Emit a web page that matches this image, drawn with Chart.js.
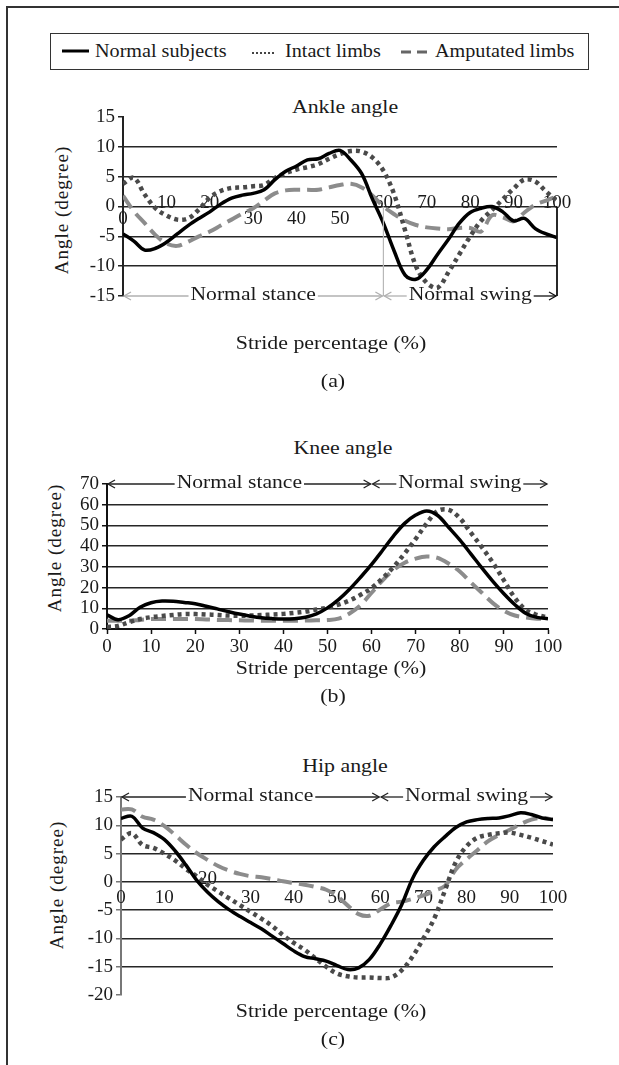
<!DOCTYPE html>
<html lang="en">
<head>
<meta charset="UTF-8">
<title>Ankle, knee and hip angles over the stride</title>
<style>
  html, body { margin: 0; padding: 0; background: #fff; overflow: hidden; }
  body {
    width: 619px; height: 1065px; position: relative;
    font-family: "Liberation Serif", serif; color: #1a1a1a;
  }
  .frame {
    position: absolute; left: 6px; top: 6px; width: 611px; height: 1057px;
    border-left: 2px solid #333; border-top: 2px solid #333;
  }
  .legend {
    position: absolute; left: 50px; top: 33px; width: 537px; height: 35px;
    border: 1.5px solid #333;
  }
  .legend svg { position: absolute; top: 11px; }
  .legend span {
    position: absolute; top: 0; line-height: 35px; font-size: 18px; white-space: nowrap;
    transform: scaleX(1.12); transform-origin: left center;
  }
  canvas { position: absolute; left: 0; }
  .txt {
    position: absolute; transform: translate(-50%, -50%) scaleX(1.15);
    white-space: nowrap; font-size: 19px;
  }
  .ytitle {
    position: absolute; transform: translate(-50%, -50%) rotate(-90deg);
    white-space: nowrap; font-size: 19px; letter-spacing: 1px;
  }
</style>
</head>
<body>
  <div class="frame"></div>

  <div class="legend">
    <svg style="left:11px" width="28" height="12"><line x1="0" y1="6" x2="27" y2="6" stroke="#000" stroke-width="3"/></svg>
    <span style="left:44px">Normal subjects</span>
    <svg style="left:201px" width="26" height="12"><line x1="0" y1="8" x2="24" y2="8" stroke="#444" stroke-width="2" stroke-dasharray="2 2"/></svg>
    <span style="left:234px">Intact limbs</span>
    <svg style="left:350px" width="30" height="12"><line x1="0" y1="7" x2="29" y2="7" stroke="#666" stroke-width="3" stroke-dasharray="10 6"/></svg>
    <span style="left:384px">Amputated limbs</span>
  </div>

  <div class="txt" style="left:345px; top:107px">Ankle angle</div>
  <div class="ytitle" style="left:62px; top:210px">Angle (degree)</div>
  <canvas id="ankle" width="619" height="250" style="top:90px; width:619px; height:250px"></canvas>
  <div class="txt" style="left:331px; top:343px">Stride percentage (%)</div>
  <div class="txt" style="left:333px; top:381px">(a)</div>

  <div class="txt" style="left:343px; top:448px">Knee angle</div>
  <div class="ytitle" style="left:55px; top:548px">Angle (degree)</div>
  <canvas id="knee" width="619" height="260" style="top:420px; width:619px; height:260px"></canvas>
  <div class="txt" style="left:331px; top:668px">Stride percentage (%)</div>
  <div class="txt" style="left:333px; top:696px">(b)</div>

  <div class="txt" style="left:345px; top:766px">Hip angle</div>
  <div class="ytitle" style="left:57px; top:885px">Angle (degree)</div>
  <canvas id="hip" width="619" height="270" style="top:740px; width:619px; height:270px"></canvas>
  <div class="txt" style="left:331px; top:1011px">Stride percentage (%)</div>
  <div class="txt" style="left:333px; top:1039px">(c)</div>

  <script src="https://cdn.jsdelivr.net/npm/chart.js"></script>
  <script>
    // stride percentage, sampled every 2.5 %
    const stride = [0, 2.5, 5, 7.5, 10, 12.5, 15, 17.5, 20, 22.5, 25, 27.5, 30, 32.5, 35, 37.5, 40,
                    42.5, 45, 47.5, 50, 52.5, 55, 57.5, 60, 62.5, 65, 67.5, 70, 72.5, 75, 77.5, 80,
                    82.5, 85, 87.5, 90, 92.5, 95, 97.5, 100];

    // (a) ankle angle, degrees
    const ankleNormal = [-4.6, -5.8, -7.3, -7.0, -6.0, -4.6, -3.2, -2.0, -0.9, 0.4, 1.4, 1.9, 2.2, 2.8,
                         4.5, 5.9, 6.8, 7.8, 8.0, 8.9, 9.4, 7.8, 5.5, 1.2, -2.8, -7.5, -11.5, -12.2,
                         -10.6, -8.0, -5.5, -2.8, -1.0, -0.3, 0.0, -0.9, -2.4, -2.0, -3.7, -4.6, -5.2];
    const ankleIntact = [3.8, 4.8, 2.0, -0.3, -1.5, -2.2, -2.0, -0.5, 1.5, 2.6, 3.1, 3.2, 3.4, 3.6,
                         4.8, 5.6, 6.2, 6.6, 7.1, 8.0, 8.8, 9.3, 9.2, 8.2, 6.0, 2.0, -4.0, -10.0,
                         -12.8, -13.6, -11.0, -8.0, -5.0, -2.4, -0.6, 1.2, 3.0, 4.5, 4.2, 2.5, 1.0];
    const ankleAmputated = [1.8, -0.8, -2.8, -4.8, -6.2, -6.6, -5.9, -5.0, -4.2, -3.2, -2.2, -1.2, -0.3,
                            1.0, 2.2, 2.7, 2.8, 2.8, 2.8, 3.2, 3.6, 3.8, 3.2, 1.8, 0.0, -1.3, -2.4,
                            -3.1, -3.5, -3.7, -3.8, -3.6, -3.6, -4.2, -1.5, -1.8, -2.5, -1.0, 0.3, 1.0, 1.7];

    // (b) knee angle, degrees
    const kneeNormal = [6.8, 4.5, 6.4, 10.5, 12.7, 13.5, 13.4, 12.8, 12.2, 11.0, 9.7, 8.4, 7.2, 6.2,
                        5.4, 5.0, 4.8, 5.0, 5.7, 7.3, 10.2, 14.2, 19.2, 25.0, 31.2, 38.0, 45.0, 51.0,
                        55.0, 57.0, 54.8, 49.0, 43.0, 36.3, 29.5, 23.0, 17.0, 11.7, 7.5, 5.6, 5.0];
    const kneeIntact = [1.0, 1.5, 3.3, 4.8, 5.7, 6.3, 6.8, 7.2, 7.2, 7.0, 6.8, 6.5, 6.4, 6.5, 6.7,
                        7.0, 7.3, 7.8, 8.4, 9.4, 10.3, 11.8, 13.8, 16.5, 19.8, 24.5, 30.0, 36.5,
                        43.5, 51.0, 57.0, 57.5, 53.5, 46.5, 39.5, 32.0, 23.5, 15.0, 9.2, 6.8, 5.6];
    const kneeAmputated = [4.0, 4.0, 4.0, 4.4, 4.8, 4.8, 4.8, 4.8, 4.8, 4.6, 4.4, 4.3, 4.2, 4.1, 4.0,
                           4.0, 4.0, 4.0, 4.1, 4.2, 4.3, 5.0, 7.5, 11.5, 17.5, 23.5, 28.5, 32.0, 34.0,
                           35.0, 34.3, 31.5, 27.8, 22.5, 17.5, 12.5, 8.8, 6.5, 5.6, 5.0, 4.8];

    // (c) hip angle, degrees
    const hipNormal = [11.2, 11.6, 9.5, 8.7, 7.5, 5.5, 3.0, 0.3, -1.8, -3.5, -4.9, -6.1, -7.2, -8.3,
                       -9.6, -10.9, -12.2, -13.2, -13.6, -14.0, -14.8, -15.5, -15.2, -13.7, -11.0,
                       -7.7, -4.0, 0.6, 3.8, 6.2, 8.0, 9.6, 10.6, 11.0, 11.2, 11.3, 11.7, 12.2, 11.9,
                       11.3, 11.0];
    const hipIntact = [7.5, 8.6, 6.5, 6.0, 5.0, 3.8, 2.3, 1.0, -0.5, -1.7, -2.9, -4.1, -5.3, -6.5,
                       -7.8, -9.4, -10.8, -12.0, -13.5, -15.0, -16.2, -16.7, -16.9, -16.9, -17.0,
                       -16.9, -15.6, -13.2, -10.0, -6.5, -1.5, 3.5, 6.3, 7.8, 8.3, 8.6, 8.7, 8.3,
                       7.8, 7.2, 6.6];
    const hipAmputated = [12.8, 12.8, 11.5, 11.0, 9.9, 8.3, 6.6, 5.1, 3.9, 2.8, 2.0, 1.4, 1.0, 0.8,
                          0.5, 0.1, -0.2, -0.5, -0.9, -1.4, -2.5, -4.2, -5.7, -6.0, -4.9, -3.8, -3.5,
                          -3.0, -2.4, -1.6, -0.7, 2.2, 4.0, 5.6, 7.2, 8.3, 9.2, 10.2, 11.0, 11.3, 11.0];

    // x tick labels that sit under / over the zero line
    const ankleLow = [0, 30, 40, 50];
    const ankleHigh = [10, 20, 60, 70, 80, 90, 100];
    const hipLow = [0, 10, 30, 40, 50, 60, 70, 80, 90, 100];
    const hipHigh = [20];

    Chart.defaults.font.family = '"Liberation Serif", serif';
    Chart.defaults.color = '#1a1a1a';
    Chart.defaults.animation = false;

    function series(ys) {
      return stride.map((x, i) => ({ x: x, y: ys[i] }));
    }

    function lines(normal, intact, amputated) {
      const base = { pointRadius: 0, tension: 0.35, fill: false, borderCapStyle: 'butt' };
      return [
        Object.assign({ label: 'Normal subjects', data: series(normal), borderColor: '#000', borderWidth: 3.5, order: 0 }, base),
        Object.assign({ label: 'Intact limbs', data: series(intact), borderColor: '#4a4a4a', borderWidth: 4.5, borderDash: [4, 4], order: 1 }, base),
        Object.assign({ label: 'Amputated limbs', data: series(amputated), borderColor: '#8c8c8c', borderWidth: 4, borderDash: [15, 7], order: 2 }, base)
      ];
    }

    function yAxis(min, max, step, hidden, axisColor) {
      return {
        min: min, max: max,
        ticks: { stepSize: step, autoSkip: false, padding: 3, font: { size: 19 } },
        grid: {
          color: c => hidden.includes(c.tick.value) ? 'rgba(0,0,0,0)' : '#262626',
          lineWidth: 1.5, drawTicks: true, tickLength: 5, tickColor: axisColor, tickWidth: 1.5
        },
        border: { display: true, color: axisColor, width: 2 },
        afterFit: s => { s.width = 55; }
      };
    }

    // x axis sitting on the zero line, showing only some of the labels
    function zeroAxis(show, pad) {
      return {
        type: 'linear', min: 0, max: 100, position: { y: 0 },
        ticks: {
          stepSize: 10, autoSkip: false, maxRotation: 0, padding: pad, font: { size: 19 },
          callback: v => show.includes(v) ? v : ''
        },
        grid: { display: false, drawTicks: false },
        border: { display: false }
      };
    }

    function line(ctx, x1, y1, x2, y2, color, w) {
      ctx.strokeStyle = color;
      ctx.lineWidth = w;
      ctx.beginPath();
      ctx.moveTo(x1, y1);
      ctx.lineTo(x2, y2);
      ctx.stroke();
    }

    function head(ctx, x, y, dir, color) {
      ctx.strokeStyle = color;
      ctx.lineWidth = 1.3;
      ctx.beginPath();
      ctx.moveTo(x - dir * 7, y - 4);
      ctx.lineTo(x, y);
      ctx.lineTo(x - dir * 7, y + 4);
      ctx.stroke();
    }

    // arrow x1 <-> x2 with a label in the gap; text is stretched like the rest of the figure
    function span(ctx, x1, x2, y, text, cl, cr) {
      const stretch = 1.2;
      const w = ctx.measureText(text).width * stretch;
      const mid = (x1 + x2) / 2;
      line(ctx, x1 + 1, y, mid - w / 2 - 2, y, cl, 1.3);
      head(ctx, x1 + 1, y, -1, cl);
      line(ctx, mid + w / 2 + 2, y, x2 - 1, y, cr, 1.3);
      head(ctx, x2 - 1, y, 1, cr);
      ctx.save();
      ctx.translate(mid, y - 1);
      ctx.scale(stretch, 1);
      ctx.fillStyle = '#1a1a1a';
      ctx.textAlign = 'center';
      ctx.textBaseline = 'middle';
      ctx.fillText(text, 0, 0);
      ctx.restore();
    }

    // stance / swing arrows
    const phasePlugin = {
      id: 'phases',
      afterDraw(chart, args, o) {
        const ctx = chart.ctx;
        const xs = chart.scales.x, ys = chart.scales.y;
        const y = ys.getPixelForValue(o.level);
        const a = xs.getPixelForValue(0), m = xs.getPixelForValue(60), b = xs.getPixelForValue(100);
        ctx.save();
        ctx.font = '18px "Liberation Serif"';
        if (o.guides) {
          const y0 = ys.getPixelForValue(0);
          line(ctx, m, y0, m, y, '#b8b8b8', 1.2);
          line(ctx, b, y0, b, y, '#111', 1.8);
        }
        span(ctx, a, m, y, 'Normal stance', o.stance, o.stance);
        span(ctx, m, b, y, 'Normal swing', o.swingL, o.swingR);
        ctx.restore();
      }
    };

    new Chart(document.getElementById('ankle'), {
      type: 'line',
      data: { datasets: lines(ankleNormal, ankleIntact, ankleAmputated) },
      plugins: [phasePlugin],
      options: {
        responsive: false,
        layout: { padding: { left: 68, right: 62, top: 27, bottom: 44 } },
        plugins: {
          legend: { display: false }, tooltip: { enabled: false },
          phases: { level: -15, guides: true, stance: '#b0b0b0', swingL: '#b0b0b0', swingR: '#111' }
        },
        scales: {
          y: yAxis(-15, 15, 5, [15, -15], '#222'),
          x: zeroAxis(ankleLow, 1),
          x2: zeroAxis(ankleHigh, -15)
        }
      }
    });

    new Chart(document.getElementById('knee'), {
      type: 'line',
      data: { datasets: lines(kneeNormal, kneeIntact, kneeAmputated) },
      plugins: [phasePlugin],
      options: {
        responsive: false,
        layout: { padding: { left: 52, right: 71, top: 64, bottom: 21 } },
        plugins: {
          legend: { display: false }, tooltip: { enabled: false },
          phases: { level: 70, guides: false, stance: '#222', swingL: '#222', swingR: '#222' }
        },
        scales: {
          y: yAxis(0, 70, 10, [70], '#111'),
          x: {
            type: 'linear', min: 0, max: 100, position: 'bottom',
            ticks: { stepSize: 10, autoSkip: false, maxRotation: 0, padding: 2, font: { size: 19 } },
            grid: { display: true, drawOnChartArea: false, drawTicks: true, tickLength: 5, tickColor: '#111', tickWidth: 1.5 },
            border: { display: true, color: '#111', width: 2 },
            afterFit: s => { s.height = 30; }
          }
        }
      }
    });

    new Chart(document.getElementById('hip'), {
      type: 'line',
      data: { datasets: lines(hipNormal, hipIntact, hipAmputated) },
      plugins: [phasePlugin],
      options: {
        responsive: false,
        layout: { padding: { left: 66, right: 66, top: 57, bottom: 15 } },
        plugins: {
          legend: { display: false }, tooltip: { enabled: false },
          phases: { level: 15, guides: false, stance: '#222', swingL: '#222', swingR: '#222' }
        },
        scales: {
          y: yAxis(-20, 15, 5, [15, -20], '#777'),
          x: zeroAxis(hipLow, 5),
          x2: zeroAxis(hipHigh, -14)
        }
      }
    });
  </script>
</body>
</html>
